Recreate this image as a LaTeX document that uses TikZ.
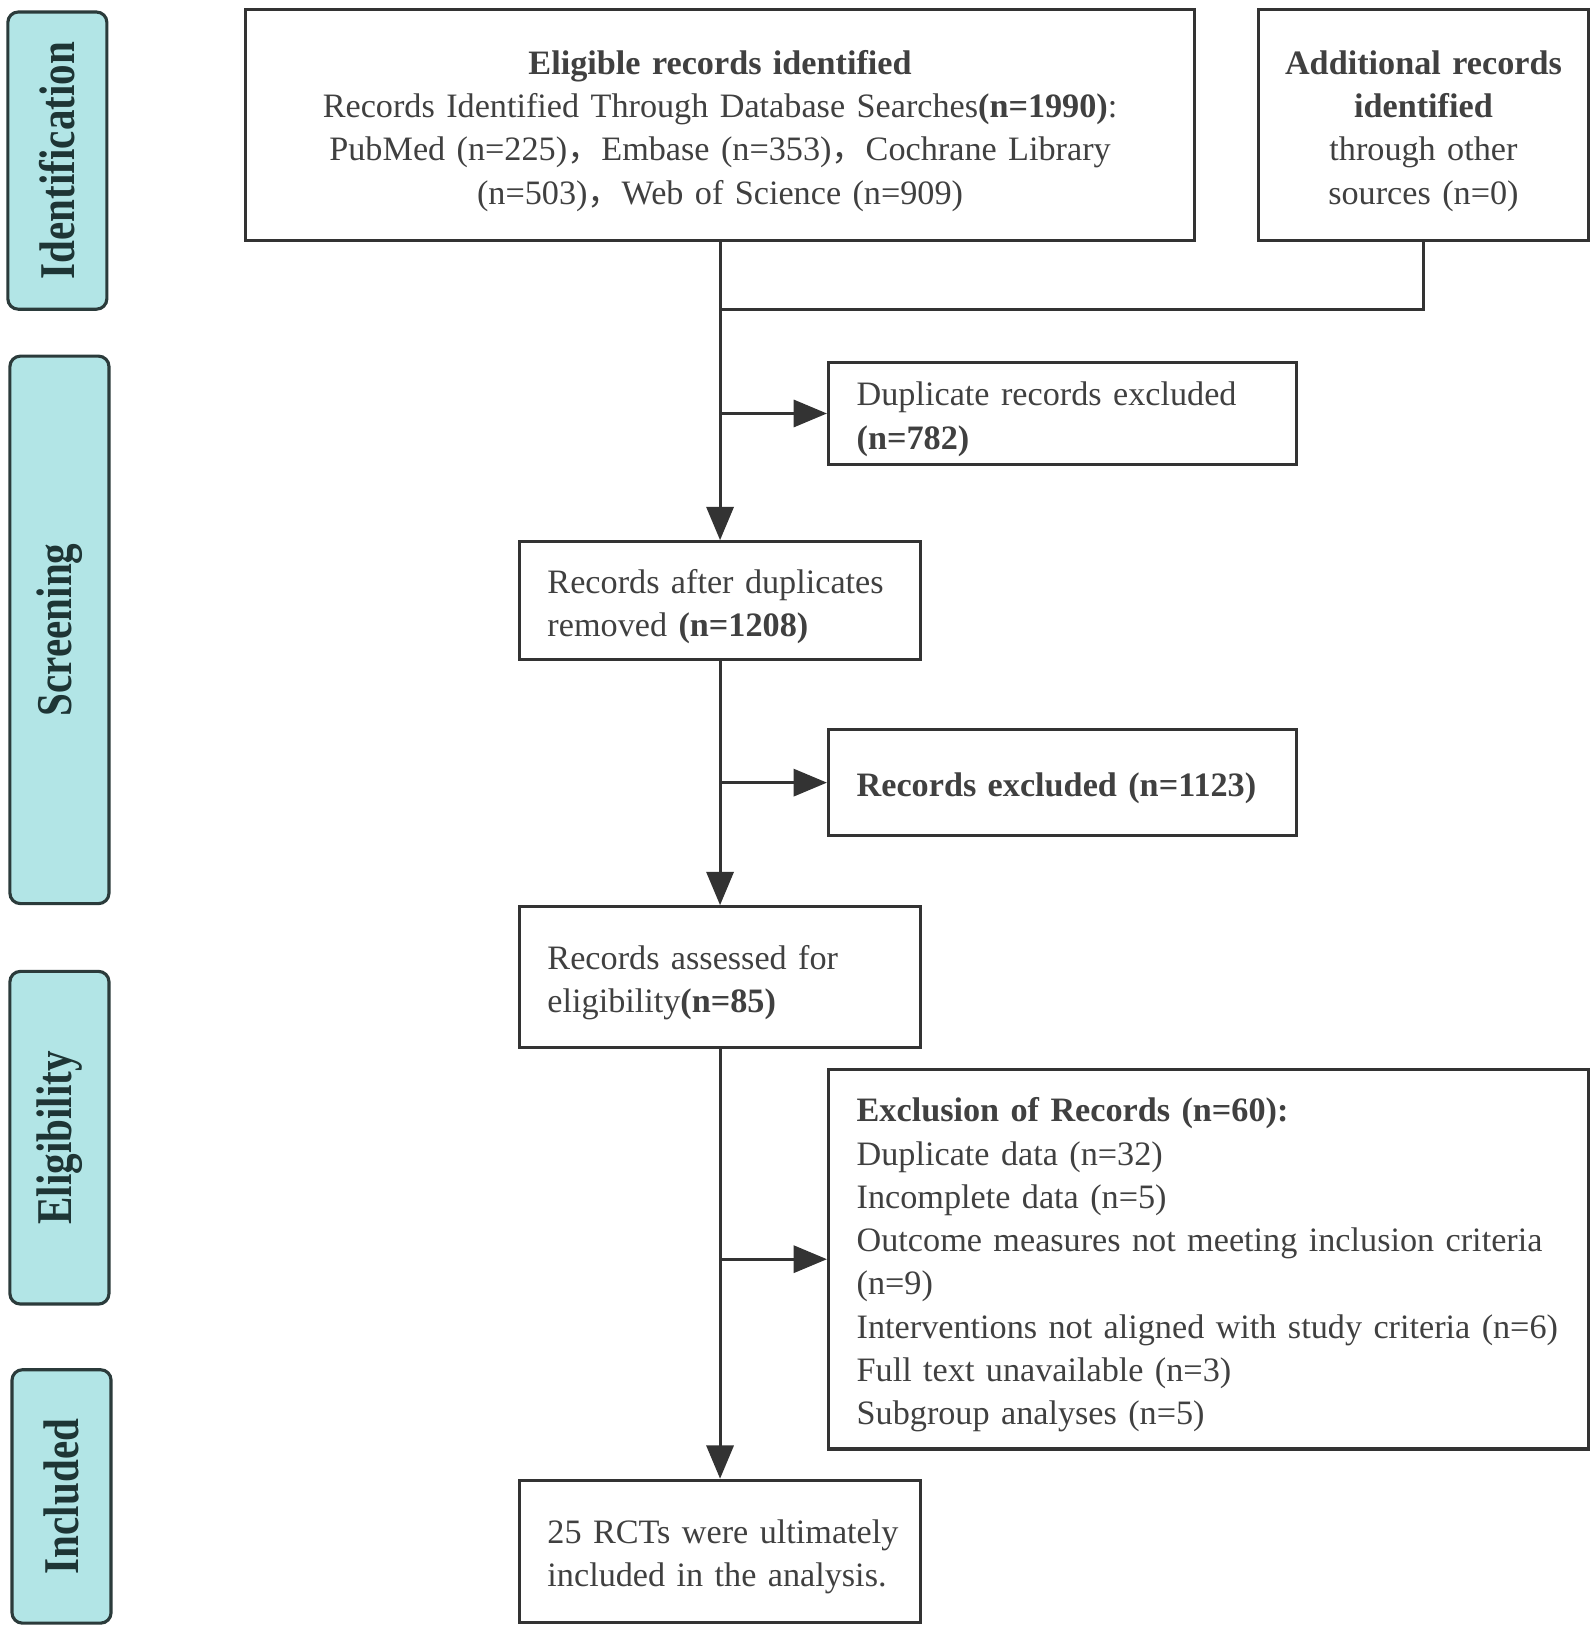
\documentclass[tikz,border=0pt]{standalone}
\usepackage{fontspec}
\setmainfont{Liberation Serif}
\newfontfamily\cjk{Noto Sans CJK SC}
\usetikzlibrary{arrows.meta}
\definecolor{linec}{HTML}{333333}
\definecolor{txtc}{HTML}{404040}
\definecolor{labfill}{HTML}{B2E5E6}
\definecolor{labdraw}{HTML}{2B3B3B}
\definecolor{labtxt}{HTML}{1E3535}
\newcommand{\fwc}{{\cjk ，}}
\newcommand{\topstrut}{\rule{0pt}{17pt}}
\begin{document}
\begin{tikzpicture}[x=0.5pt,y=-0.5pt,
  box/.style={draw=linec, line width=1.5pt, fill=white, text=txtc,
    font=\fontsize{16.4}{20.75}\selectfont, inner sep=0pt,
    execute at begin node=\topstrut},
  cbox/.style={box, align=center, inner xsep=4pt},
  lbox/.style={box, align=left, inner xsep=13.5pt},
  lab/.style={draw=labdraw, fill=labfill, line width=1.5pt, rounded corners=5pt,
    text=labtxt, font=\fontsize{24}{28}\bfseries, rotate=90, inner sep=0pt},
  ln/.style={draw=linec, line width=1.5pt},
  arr/.style={ln, -{Triangle[length=16pt,width=13pt]}}
]
\useasboundingbox (0,0) rectangle (1530,1565);

% stage labels
\node[lab, minimum width=142.5pt, minimum height=47.5pt] (l1) at (55,154) {\scalebox{0.82}[1]{Identification}};
\node[lab, minimum width=262.5pt, minimum height=47.5pt] (l2) at (57,604) {\scalebox{0.82}[1]{Screening}};
\node[lab, minimum width=159.5pt, minimum height=47.5pt] (l3) at (57,1091) {\scalebox{0.82}[1]{Eligibility}};
\node[lab, minimum width=121.5pt, minimum height=47.5pt] (l4) at (59,1435) {\scalebox{0.82}[1]{Included}};

% boxes
\node[cbox, text width=447pt, minimum height=110.5pt] (main) at (690.5,120)
 {\textbf{Eligible records identified}\\
  \mbox{Records Identified Through Database Searches\textbf{(n=1990)}:}\\
  \mbox{PubMed (n=225)\fwc Embase (n=353)\fwc Cochrane Library}\\
  \mbox{(n=503)\fwc Web of Science (n=909)}};
\node[cbox, text width=150.5pt, minimum height=110.5pt] (add) at (1365,120)
 {\textbf{Additional records}\\ \textbf{identified}\\ through other\\ sources (n=0)};
\node[lbox, text width=197.5pt, minimum height=49pt] (dup) at (1019,396.5)
 {\mbox{Duplicate records excluded}\\ \textbf{(n=782)}};
\node[lbox, text width=165.5pt, minimum height=56.5pt] (after) at (690.5,576)
 {\mbox{Records after duplicates}\\ \mbox{removed \textbf{(n=1208)}}};
\node[lbox, text width=197.5pt, minimum height=51pt] (excl) at (1019,750.5)
 {\mbox{\textbf{Records excluded (n=1123)}}};
\node[lbox, text width=165.5pt, minimum height=67.5pt] (assess) at (690.5,937)
 {\mbox{Records assessed for}\\ \mbox{eligibility\textbf{(n=85)}}};
\node[lbox, text width=337.5pt, minimum height=182pt] (exc) at (1159,1207.5)
 {\mbox{\textbf{Exclusion of Records (n=60):}}\\
  \mbox{Duplicate data (n=32)}\\
  \mbox{Incomplete data (n=5)}\\
  \mbox{Outcome measures not meeting inclusion criteria}\\
  \mbox{(n=9)}\\
  \mbox{Interventions not aligned with study criteria (n=6)}\\
  \mbox{Full text unavailable (n=3)}\\
  \mbox{Subgroup analyses (n=5)}};
\node[lbox, text width=165.5pt, minimum height=68pt] (final) at (690.5,1487.5)
 {\mbox{25 RCTs were ultimately}\\ \mbox{included in the analysis.}};

% connectors
\coordinate (jn) at (690.5,297);
\draw[ln] (add.south) |- (jn);
\draw[arr] (main.south) -- (after.north);
\draw[arr] (main.south |- dup.west) -- (dup.west);
\draw[arr] (after.south) -- (assess.north);
\draw[arr] (after.south |- excl.west) -- (excl.west);
\draw[arr] (assess.south) -- (final.north);
\draw[arr] (assess.south |- exc.west) -- (exc.west);
\end{tikzpicture}
\end{document}
